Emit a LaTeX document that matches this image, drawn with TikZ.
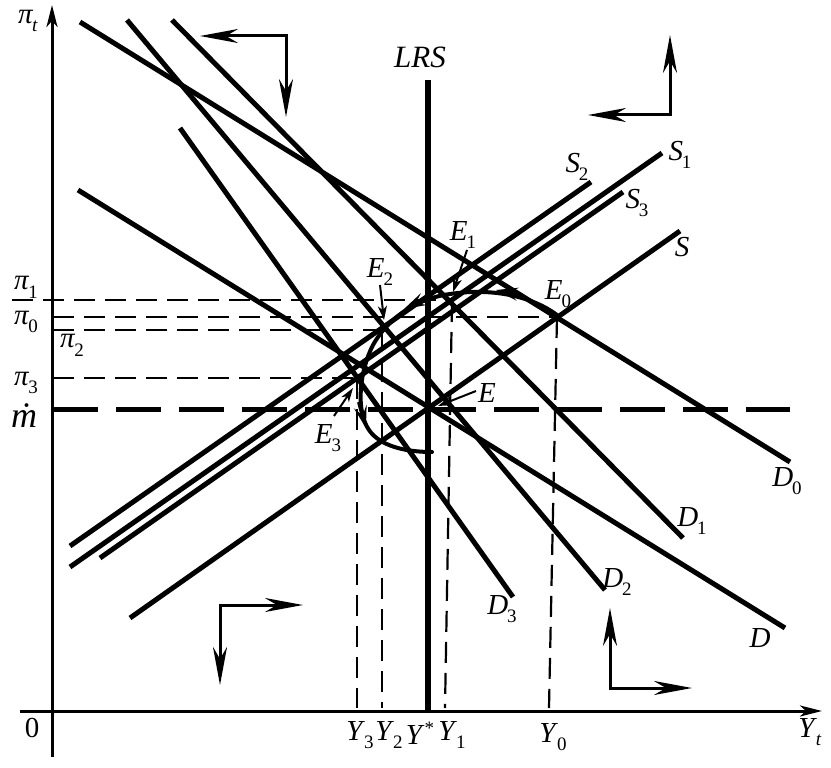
\documentclass[tikz,border=0pt]{standalone}
\usepackage{fontspec}
\setmainfont{Liberation Serif}
\usetikzlibrary{arrows.meta}
\newcommand\sbx[2]{\textit{#1}\kern-0.04em\raisebox{-0.3em}{\fontsize{19}{19}\selectfont #2}}
\begin{document}
\begin{tikzpicture}[x=1pt,y=-1pt,
  font=\fontsize{29}{32}\selectfont,
  lbl/.style={inner sep=0pt,anchor=center},
  axisline/.style={line width=3pt},
  curveline/.style={line width=5pt},
  guide/.style={line width=2.2pt,dash pattern=on 21pt off 10pt},
  mline/.style={line width=5pt,dash pattern=on 45pt off 18pt},
  dirarrow/.style={line width=3pt,{Stealth[length=38pt,width=14pt,inset=12pt]}-{Stealth[length=38pt,width=14pt,inset=12pt]}},
  pointer/.style={line width=2pt,-{Stealth[length=14pt,width=9pt,inset=4pt]}},
  adjpath/.style={line width=4pt,line cap=round},
  adjtip/.style={line width=4pt,-{Stealth[length=22pt,width=13pt,inset=9pt]}}
]
\useasboundingbox (0,0) rectangle (831,768);
% axes
\coordinate (yb) at (52,757); \coordinate (yt) at (52,5);
\coordinate (xl) at (20,711); \coordinate (xr) at (822,711);
\draw[axisline,-{Stealth[length=22pt,width=11pt,inset=6pt]}] (yb) -- (yt);
\draw[axisline,-{Stealth[length=22pt,width=11pt,inset=6pt]}] (xl) -- (xr);
% equilibrium points
\coordinate (E0) at (557,317);
\coordinate (E1) at (451,301);
\coordinate (E2) at (383,328);
\coordinate (E3) at (357,378);
\coordinate (E) at (428,409);
% guide lines
\coordinate (p1) at (12,300); \coordinate (p1e) at (451,300);
\coordinate (p0) at (53,317);
\coordinate (p2) at (53,330); \coordinate (p2e) at (383,330);
\coordinate (p3) at (53,378);
\coordinate (y3) at (357,708); \coordinate (y2) at (382,708);
\coordinate (y1t) at (452,301); \coordinate (y1) at (445,708);
\coordinate (y0) at (549,708);
\coordinate (y2t) at (382,330);
\draw[guide] (p1) -- (p1e);
\draw[guide] (p0) -- (E0);
\draw[guide] (p2) -- (p2e);
\draw[guide] (p3) -- (E3);
\draw[guide] (E3) -- (y3);
\draw[guide] (y2t) -- (y2);
\draw[guide] (y1t) -- (y1);
\draw[guide] (E0) -- (y0);
% m-dot line
\coordinate (m0) at (53,409); \coordinate (m1) at (790,409);
\draw[mline] (m0) -- (m1);
% LRS
\coordinate (lrst) at (428,80); \coordinate (lrsb) at (428,711);
\draw[line width=6pt] (lrst) -- (lrsb);
% supply lines
\coordinate (Sa) at (130,618); \coordinate (Sb) at (680,231);
\coordinate (S1a) at (70,567); \coordinate (S1b) at (662,153);
\coordinate (S2a) at (70,546); \coordinate (S2b) at (591,182);
\coordinate (S3a) at (100,558); \coordinate (S3b) at (623,192);
\draw[curveline] (Sa) -- (Sb);
\draw[curveline] (S1a) -- (S1b);
\draw[curveline] (S2a) -- (S2b);
\draw[curveline] (S3a) -- (S3b);
% demand lines
\coordinate (D0a) at (80,22); \coordinate (D0b) at (790,462);
\coordinate (Da) at (78,190); \coordinate (Db) at (785,628);
\coordinate (D1a) at (172,20); \coordinate (D1b) at (683,538);
\coordinate (D2a) at (127,20); \coordinate (D2b) at (605,590);
\coordinate (D3a) at (180,128); \coordinate (D3b) at (513,597);
\draw[curveline] (D0a) -- (D0b);
\draw[curveline] (Da) -- (Db);
\draw[curveline] (D1a) -- (D1b);
\draw[curveline] (D2a) -- (D2b);
\draw[curveline] (D3a) -- (D3b);
% adjustment spiral
\coordinate (sp0) at (557,315);
\coordinate (sp1) at (450,294);
\coordinate (sp2) at (373,345);
\coordinate (sp3) at (369,430);
\coordinate (sp4) at (432,452);
\draw[adjpath] (sp0) .. controls (530,295) and (490,288) .. (sp1)
  .. controls (420,298) and (390,315) .. (sp2)
  .. controls (360,370) and (355,410) .. (sp3)
  .. controls (380,446) and (405,452) .. (sp4);
\coordinate (t1a) at (522,295); \coordinate (t1b) at (496,290);
\coordinate (t2a) at (424,299); \coordinate (t2b) at (404,309);
\coordinate (t3a) at (359,402); \coordinate (t3b) at (366,428);
\draw[adjtip] (t1a) -- (t1b);
\draw[adjtip] (t2a) -- (t2b);
\draw[adjtip] (t3a) -- (t3b);
% label pointers
\coordinate (pE1a) at (467,250); \coordinate (pE1b) at (453,292);
\coordinate (pE2a) at (380,285); \coordinate (pE2b) at (384,320);
\coordinate (pEa) at (476,391); \coordinate (pEb) at (438,406);
\coordinate (pE3a) at (334,416); \coordinate (pE3b) at (353,388);
\draw[pointer] (pE1a) -- (pE1b);
\draw[pointer] (pE2a) -- (pE2b);
\draw[pointer] (pEa) -- (pEb);
\draw[pointer] (pE3a) -- (pE3b);
% direction arrows
\coordinate (tl1) at (200,36); \coordinate (tl2) at (286,36); \coordinate (tl3) at (286,117);
\coordinate (tr1) at (588,115); \coordinate (tr2) at (670,115); \coordinate (tr3) at (670,35);
\coordinate (bl1) at (303,605); \coordinate (bl2) at (220,605); \coordinate (bl3) at (220,685);
\coordinate (br1) at (610,608); \coordinate (br2) at (610,688); \coordinate (br3) at (692,688);
\draw[dirarrow] (tl1) -- (tl2) -- (tl3);
\draw[dirarrow] (tr1) -- (tr2) -- (tr3);
\draw[dirarrow] (bl1) -- (bl2) -- (bl3);
\draw[dirarrow] (br1) -- (br2) -- (br3);
% labels
\node[lbl] (lpit) at (28,21) {\sbx{π}{\textit{t}}};
\node[lbl] (lyt) at (810,732) {\sbx{Y}{\textit{t}}};
\node[lbl] (lzero) at (32,728) {0};
\node[lbl] (llrs) at (420,57) {\fontsize{31}{34}\selectfont\textit{LRS}};
\node[lbl] (lS) at (682,247) {\textit{S}};
\node[lbl] (lS1) at (680,155) {\sbx{S}{1}};
\node[lbl] (lS2) at (577,167) {\sbx{S}{2}};
\node[lbl] (lS3) at (637,203) {\sbx{S}{3}};
\node[lbl] (lD0) at (787,481) {\sbx{D}{0}};
\node[lbl] (lD1) at (692,521) {\sbx{D}{1}};
\node[lbl] (lD2) at (617,582) {\sbx{D}{2}};
\node[lbl] (lD3) at (502,609) {\sbx{D}{3}};
\node[lbl] (lD) at (760,638) {\textit{D}};
\node[lbl] (lE0) at (558,294) {\sbx{E}{0}};
\node[lbl] (lE1) at (463,235) {\sbx{E}{1}};
\node[lbl] (lE2) at (380,272) {\sbx{E}{2}};
\node[lbl] (lE3) at (328,438) {\sbx{E}{3}};
\node[lbl] (lE) at (487,393) {\textit{E}};
\node[lbl] (lpi1) at (26,287) {\sbx{π}{1}};
\node[lbl] (lpi0) at (26,322) {\sbx{π}{0}};
\node[lbl] (lpi2) at (72,345) {\sbx{π}{2}};
\node[lbl] (lpi3) at (26,383) {\sbx{π}{3}};
\node[lbl] (lm) at (24,416) {\fontsize{36}{40}\selectfont\textit{ṁ}};
\node[lbl] (lY3) at (360,735) {\sbx{Y}{3}};
\node[lbl] (lY2) at (389,735) {\sbx{Y}{2}};
\node[lbl] (lYs) at (420,733) {\textit{Y}\raisebox{0.35em}{\fontsize{19}{19}\selectfont *}};
\node[lbl] (lY1) at (452,735) {\sbx{Y}{1}};
\node[lbl] (lY0) at (553,737) {\sbx{Y}{0}};
\end{tikzpicture}
\end{document}
